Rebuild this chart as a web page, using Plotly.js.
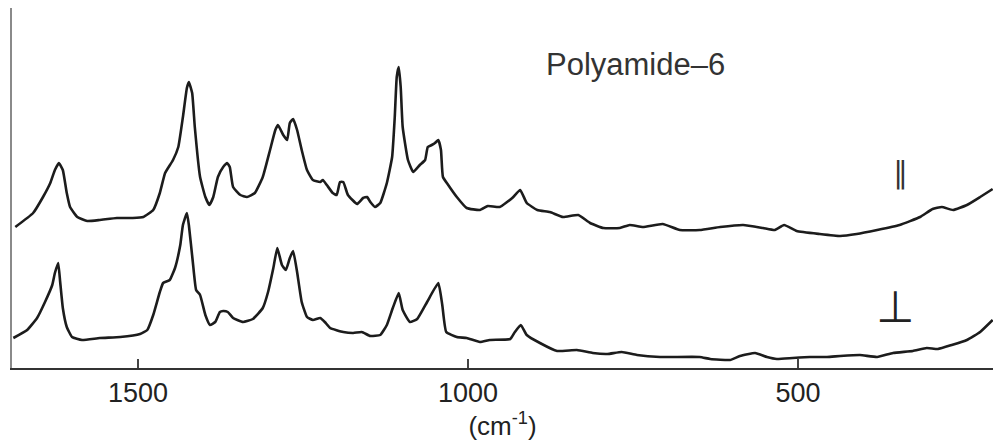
<!DOCTYPE html>
<html>
<head>
<meta charset="utf-8">
<script src="https://cdn.plot.ly/plotly-3.0.1.min.js"></script>
<style>
  html, body { margin: 0; padding: 0; background: #ffffff; }
  #chart { width: 993px; height: 443px; }
</style>
</head>
<body>
<div id="chart"></div>
<script>
// Wavenumbers (cm-1) and relative intensities
const parallelWavenumber = [1686,1659,1644,1633,1626,1620,1614,1608,1603,1592,1577,1558,1532,1508,1492,1477,1467,1459,1447,1439,1432,1426,1423,1418,1414,1406,1398,1392,1386,1379,1371,1365,1361,1356,1345,1335,1323,1311,1300,1292,1288,1280,1274,1270,1265,1259,1252,1244,1235,1224,1220,1214,1205,1199,1194,1189,1182,1168,1159,1153,1148,1141,1133,1123,1115,1111,1108,1105,1102,1099,1091,1083,1073,1065,1061,1055,1050,1045,1041,1038,1030,1017,1002,982,970,952,933,921,911,895,876,856,833,815,795,770,755,735,705,679,649,618,583,553,535,521,502,467,436,411,380,346,315,296,282,265,244,224,205];
const parallelIntensity = [141,155,171,185,198,205,198,175,161,151,147,148,150,150,151,158,175,195,208,221,251,280,286,275,241,191,171,163,171,191,201,205,201,181,173,171,175,191,218,238,243,233,228,245,249,238,218,198,188,186,188,183,175,173,186,186,173,164,170,171,166,161,165,185,211,251,291,301,281,241,208,196,203,208,221,223,225,228,218,191,183,171,160,158,162,161,170,178,165,158,156,151,153,145,140,140,143,141,144,138,138,141,143,140,138,143,137,134,132,134,138,143,151,159,161,158,163,171,179];

const perpWavenumber = [1689,1668,1653,1641,1630,1626,1621,1618,1614,1608,1600,1585,1558,1527,1497,1486,1477,1467,1462,1452,1444,1436,1432,1426,1423,1417,1412,1406,1398,1391,1383,1376,1371,1364,1356,1341,1326,1311,1303,1295,1289,1282,1276,1270,1265,1259,1252,1244,1235,1224,1217,1209,1189,1174,1161,1148,1133,1123,1114,1105,1099,1088,1077,1062,1045,1039,1033,1017,1002,982,967,936,929,920,911,891,865,835,811,789,767,744,709,649,633,603,588,565,547,532,508,482,456,436,406,380,356,326,305,288,267,244,224,205];
const perpIntensity = [30,38,50,66,83,95,105,86,60,41,31,28,30,31,34,38,53,76,85,88,100,123,143,155,143,106,78,73,53,43,46,56,57,56,50,46,49,60,76,100,120,103,98,110,117,96,66,51,48,50,46,40,36,35,36,32,33,43,60,75,58,46,49,66,85,63,36,31,30,26,28,29,36,43,33,25,17,18,15,14,16,13,11,11,9,8,12,15,11,9,10,11,11,12,13,11,15,17,20,19,23,28,36,48];

const tickValues = [1500, 1000, 500];
const tickLabels = ['1500', '1000', '500'];

const lineStyle = { color: '#1c1c1c', width: 2.6, shape: 'spline', smoothing: 0.4 };

const traces = [
  { x: parallelWavenumber, y: parallelIntensity, type: 'scatter', mode: 'lines', name: '∥', line: lineStyle, hoverinfo: 'x+y' },
  { x: perpWavenumber, y: perpIntensity, type: 'scatter', mode: 'lines', name: '⊥', line: lineStyle, hoverinfo: 'x+y' }
];

const layout = {
  width: 993,
  height: 443,
  margin: { l: 12, r: 0, t: 8, b: 75 },
  paper_bgcolor: '#ffffff',
  plot_bgcolor: '#ffffff',
  showlegend: false,
  font: { family: 'Liberation Sans, Arial, sans-serif', color: '#222222' },
  xaxis: {
    range: [1691, 204.5],
    tickvals: tickValues,
    ticktext: tickLabels,
    ticks: 'inside',
    ticklen: 9,
    tickwidth: 1.5,
    tickcolor: '#444444',
    tickfont: { size: 27, color: '#222222' },
    showline: true,
    linecolor: '#333333',
    linewidth: 1.6,
    showgrid: false,
    zeroline: false,
    title: { text: '(cm<sup>-1</sup>)', font: { size: 26, color: '#222222' }, standoff: 4 }
  },
  yaxis: {
    range: [0, 360],
    showline: true,
    linecolor: '#8a8a8a',
    linewidth: 2,
    showticklabels: false,
    ticks: '',
    showgrid: false,
    zeroline: false
  },
  annotations: [
    { text: 'Polyamide–6', xref: 'paper', yref: 'paper', x: 0.636, y: 0.842,
      xanchor: 'center', yanchor: 'middle', showarrow: false,
      font: { size: 31, color: '#333333', family: 'Liberation Sans, Arial, sans-serif' } },
    { text: '∥', xref: 'paper', yref: 'paper', x: 0.906, y: 0.544,
      xanchor: 'center', yanchor: 'middle', showarrow: false,
      font: { size: 30, color: '#333333', family: 'DejaVu Sans, sans-serif' } },
    { text: '⊥', xref: 'paper', yref: 'paper', x: 0.900, y: 0.172,
      xanchor: 'center', yanchor: 'middle', showarrow: false,
      font: { size: 44, color: '#222222', family: 'DejaVu Sans, sans-serif' } }
  ]
};

Plotly.newPlot('chart', traces, layout, { displayModeBar: false, staticPlot: true });
</script>
</body>
</html>
